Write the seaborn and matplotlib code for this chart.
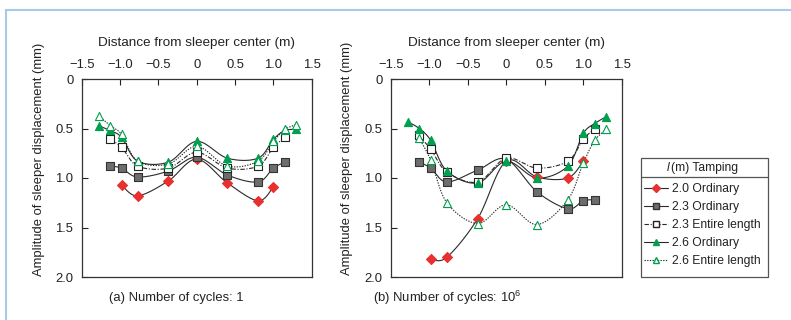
import numpy as np
import matplotlib
matplotlib.use("Agg")
import matplotlib.pyplot as plt
from matplotlib.lines import Line2D
from matplotlib.patches import Rectangle
import seaborn as sns

# distances from sleeper center (m)
x_all = [-1.28, -1.13, -0.98, -0.77, -0.37, 0.0, 0.40, 0.80, 1.00, 1.15, 1.30]
x_red = [-0.98, -0.77, -0.37, 0.0, 0.40, 0.80, 1.00]
x_sq = [-1.13, -0.98, -0.77, -0.37, 0.0, 0.40, 0.80, 1.00, 1.15]
x_otri_b = [-1.13, -0.98, -0.77, -0.37, 0.0, 0.40, 0.80, 1.00, 1.15, 1.30]

# (a) number of cycles: 1
a_20_ord = [1.07, 1.18, 1.03, 0.81, 1.05, 1.23, 1.09]
a_23_ord = [0.88, 0.90, 0.99, 0.93, 0.79, 0.97, 1.04, 0.90, 0.84]
a_23_ent = [0.61, 0.69, 0.88, 0.90, 0.74, 0.90, 0.88, 0.69, 0.59]
a_26_ord = [0.47, 0.52, 0.59, 0.83, 0.84, 0.63, 0.80, 0.80, 0.61, 0.52, 0.51]
a_26_ent = [0.37, 0.47, 0.56, 0.83, 0.86, 0.68, 0.88, 0.83, 0.63, 0.51, 0.46]

# (b) number of cycles: 10^6
b_20_ord = [1.82, 1.80, 1.41, 0.83, 0.99, 1.00, 0.83]
b_23_ord = [0.84, 0.90, 1.04, 0.92, 0.81, 1.14, 1.31, 1.23, 1.22]
b_23_ent = [0.57, 0.71, 0.94, 1.04, 0.80, 0.90, 0.83, 0.61, 0.50]
b_26_ord = [0.43, 0.50, 0.62, 0.93, 1.05, 0.83, 1.00, 0.88, 0.55, 0.45, 0.38]
b_26_ent = [0.60, 0.82, 1.25, 1.46, 1.27, 1.47, 1.22, 0.85, 0.62, 0.51]

tick_vals = [-1.5, -1.0, -0.5, 0, 0.5, 1.0, 1.5]
tick_labels = ["\u22121.5", "\u22121.0", "\u22120.5", "0", "0.5", "1.0", "1.5"]
ytick_vals = [0, 0.5, 1.0, 1.5, 2.0]
ytick_labels = ["0", "0.5", "1.0", "1.5", "2.0"]
legend_labels = ["2.0 Ordinary", "2.3 Ordinary", "2.3 Entire length",
                 "2.6 Ordinary", "2.6 Entire length"]

RED = "#e8312f"
GRAY = "#6d6d6d"
GREEN = "#00a04f"
LINE = "#2a2a2a"
TXT = "#222222"

sns.set_style("white")
plt.rcParams["font.family"] = ["Liberation Sans", "DejaVu Sans"]
plt.rcParams["mathtext.fontset"] = "custom"
plt.rcParams["mathtext.rm"] = "Liberation Sans"


def smooth(x, y, n=16):
    # catmull-rom curve through the measured points
    p = np.column_stack([x, y]).astype(float)
    out = []
    for i in range(len(p) - 1):
        p0 = p[i - 1] if i > 0 else p[i]
        p1, p2 = p[i], p[i + 1]
        p3 = p[i + 2] if i + 2 < len(p) else p[i + 1]
        t = np.linspace(0, 1, n)[:, None]
        seg = 0.5 * ((2 * p1) + (-p0 + p2) * t + (2 * p0 - 5 * p1 + 4 * p2 - p3) * t ** 2
                     + (-p0 + 3 * p1 - 3 * p2 + p3) * t ** 3)
        out.append(seg)
    s = np.vstack(out)
    return s[:, 0], s[:, 1]


styles = [
    dict(ls="-", marker="D", fc=RED, ec=RED, s=26),
    dict(ls="-", marker="s", fc=GRAY, ec="#333333", s=26),
    dict(ls=(0, (4, 1.5, 1, 1.5)), marker="s", fc="white", ec="#222222", s=26),
    dict(ls="-", marker="^", fc=GREEN, ec=GREEN, s=34),
    dict(ls=(0, (1.2, 1.2)), marker="^", fc="white", ec=GREEN, s=34),
]


def draw_panel(ax, series):
    for (xs, ys), st in zip(series, styles):
        sx, sy = smooth(xs, ys)
        sns.lineplot(x=sx, y=sy, ax=ax, sort=False, estimator=None, color=LINE,
                     linewidth=0.8, linestyle=st["ls"], zorder=2)
    for (xs, ys), st in zip(series, styles):
        sns.scatterplot(x=xs, y=ys, ax=ax, marker=st["marker"], color=st["fc"],
                        edgecolor=st["ec"], linewidth=0.8, s=st["s"], zorder=3)
    ax.set_xlim(-1.5, 1.5)
    ax.set_ylim(2.0, 0)
    ax.xaxis.tick_top()
    ax.xaxis.set_label_position("top")
    ax.set_xticks(tick_vals)
    ax.set_xticklabels(tick_labels)
    ax.set_yticks(ytick_vals)
    ax.set_yticklabels(ytick_labels)
    ax.tick_params(axis="x", direction="in", length=4, width=0.8, pad=6,
                   labelsize=9.4, top=True, bottom=False, colors=TXT)
    ax.tick_params(axis="y", direction="in", length=4, width=0.8, pad=6,
                   labelsize=9.4, left=True, right=False, colors=TXT)
    for sp in ax.spines.values():
        sp.set_color("#333333")
        sp.set_linewidth(0.9)
    ax.set_xlabel("Distance from sleeper center (m)", fontsize=9.7, color=TXT)
    ax.xaxis.set_label_coords(0.5, 1.165)
    ax.set_ylabel("Amplitude of sleeper displacement (mm)", fontsize=9.4, color=TXT)


W, H = 791, 320
fig = plt.figure(figsize=(W / 100, H / 100), dpi=100)
ax1 = fig.add_axes([81.7 / W, 1 - 277 / H, 230 / W, 198 / H])
ax2 = fig.add_axes([390.7 / W, 1 - 277 / H, 231 / W, 198 / H])

draw_panel(ax1, [(x_red, a_20_ord), (x_sq, a_23_ord), (x_sq, a_23_ent),
                 (x_all, a_26_ord), (x_all, a_26_ent)])
draw_panel(ax2, [(x_red, b_20_ord), (x_sq, b_23_ord), (x_sq, b_23_ent),
                 (x_all, b_26_ord), (x_otri_b, b_26_ent)])
ax1.yaxis.set_label_coords(-0.16, 0.595)
ax2.yaxis.set_label_coords(-0.163, 0.6)

fig.text(176 / W, 1 - 298 / H, "(a) Number of cycles: 1", ha="center", va="center",
         fontsize=9.4, color=TXT)
fig.text(447 / W, 1 - 298 / H, "(b) Number of cycles: 10$^6$", ha="center", va="center",
         fontsize=9.4, color=TXT)

# legend box
lx0, lx1 = 640.7 / W, 767.7 / W
ly0, ly1 = 1 - 276.7 / H, 1 - 158.3 / H
fig.patches.append(Rectangle((lx0, ly0), lx1 - lx0, ly1 - ly0, transform=fig.transFigure,
                             fill=False, edgecolor="#555555", linewidth=0.9))
fig.lines.append(Line2D([lx0, lx1], [1 - 177.3 / H] * 2, transform=fig.transFigure,
                        color="#555555", linewidth=0.9))
fig.text(667 / W, 1 - 168 / H, "l", style="italic", fontsize=8.7, ha="left", va="center",
         color=TXT)
fig.text(671 / W, 1 - 168 / H, "(m) Tamping", fontsize=8.7, ha="left", va="center",
         color=TXT)
handles = [Line2D([], [], color=LINE, lw=0.8, ls=st["ls"], marker=st["marker"],
                  markerfacecolor=st["fc"], markeredgecolor=st["ec"],
                  markersize=4.5 if st["marker"] != "^" else 5)
           for st in styles]
fig.legend(handles, legend_labels, loc="upper left",
           bbox_to_anchor=(644 / W, 1 - 183 / H), frameon=False, fontsize=8.7,
           handlelength=2.0, handletextpad=0.3, labelspacing=0.5,
           borderaxespad=0, borderpad=0, labelcolor=TXT)

# light blue frame
fig.lines.append(Line2D([6 / W, 1], [1 - 10 / H] * 2, transform=fig.transFigure,
                        color="#a9c9ec", linewidth=1.5))
fig.lines.append(Line2D([6 / W] * 2, [0, 1 - 10 / H], transform=fig.transFigure,
                        color="#a9c9ec", linewidth=1.5))

fig.savefig("out.png", dpi=100)
